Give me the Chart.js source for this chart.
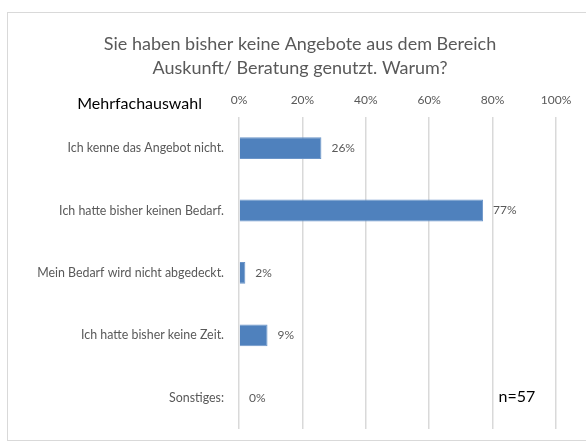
<!DOCTYPE html>
<html><head><meta charset="utf-8">
<script src="https://cdn.jsdelivr.net/npm/chart.js@4/dist/chart.umd.min.js"></script>
<style>
html,body{margin:0;padding:0;background:#fff;}
#wrap{position:relative;width:586px;height:445px;overflow:hidden;}
#c{position:absolute;left:0;top:0;}
#frame{position:absolute;left:7px;top:12px;width:590px;height:427px;border:1px solid #d9d9d9;pointer-events:none;}
</style></head>
<body>
<div id="wrap"><canvas id="c" width="586" height="445"></canvas><div id="frame"></div></div>
<script>
const titleLines = ['Sie haben bisher keine Angebote aus dem Bereich', 'Auskunft/ Beratung genutzt. Warum?'];
const categories = ['Ich kenne das Angebot nicht.', 'Ich hatte bisher keinen Bedarf.', 'Mein Bedarf wird nicht abgedeckt.', 'Ich hatte bisher keine Zeit.', 'Sonstiges:'];
const values = [26, 77, 2, 9, 0];
const tickValues = [0, 20, 40, 60, 80, 100];
const sideNote = 'Mehrfachauswahl';
const sampleNote = 'n=57';

const FONT = 'Lato, "Open Sans", sans-serif';

const annot = {
  id: 'annot',
  afterDatasetsDraw(chart) {
    const ctx = chart.ctx;
    const meta = chart.getDatasetMeta(0);
    ctx.save();
    ctx.font = '12px ' + FONT;
    ctx.fillStyle = '#595959';
    ctx.textAlign = 'left';
    ctx.textBaseline = 'middle';
    meta.data.forEach((bar, i) => {
      ctx.fillText(values[i] + '%', bar.x + 10, bar.y);
    });
    const xs = chart.scales.x, ys = chart.scales.y;
    ctx.font = '16px ' + FONT;
    ctx.fillStyle = '#000';
    ctx.textAlign = 'right';
    ctx.fillText(sideNote, chart.chartArea.left - 37, chart.chartArea.top - 13);
    ctx.textAlign = 'left';
    ctx.fillText(sampleNote, xs.getPixelForValue(80) + 6, ys.getPixelForValue(4) - 1);
    ctx.restore();
  }
};

new Chart(document.getElementById('c'), {
  type: 'bar',
  data: {
    labels: categories,
    datasets: [{
      data: values,
      backgroundColor: '#4f81bd',
      borderColor: '#6b95c9',
      borderWidth: 1,
      barPercentage: 0.35,
      categoryPercentage: 1
    }]
  },
  plugins: [annot],
  options: {
    indexAxis: 'y',
    responsive: false,
    animation: false,
    layout: { padding: { left: 30, right: 16, top: 0, bottom: 16 } },
    plugins: {
      legend: { display: false },
      tooltip: { enabled: false },
      title: {
        display: true,
        text: titleLines,
        color: '#595959',
        font: { family: FONT, size: 18, weight: 'normal', lineHeight: 1.33 },
        padding: { top: 32, bottom: 0 }
      }
    },
    scales: {
      x: {
        position: 'top',
        min: 0, max: 100,
        afterBuildTicks(scale) { scale.ticks = tickValues.map(v => ({ value: v })); },
        afterFit(scale) { scale.height = 37; },
        ticks: {
          callback: v => v + '%',
          color: '#595959',
          font: { family: FONT, size: 12 },
          padding: 10,
          maxRotation: 0
        },
        grid: { color: '#d9d9d9', lineWidth: 1.5, drawTicks: false },
        border: { display: false }
      },
      y: {
        afterFit(scale) { scale.width = 209; },
        ticks: {
          color: '#595959',
          font: { family: FONT, size: 12.4 },
          padding: 7
        },
        grid: { display: false },
        border: { display: false }
      },
      yRight: {
        type: 'linear',
        position: 'right',
        display: true,
        afterFit(scale) { scale.width = 14; },
        ticks: { display: false },
        grid: { display: false },
        border: { display: false }
      }
    }
  }
});
</script>
</body></html>
